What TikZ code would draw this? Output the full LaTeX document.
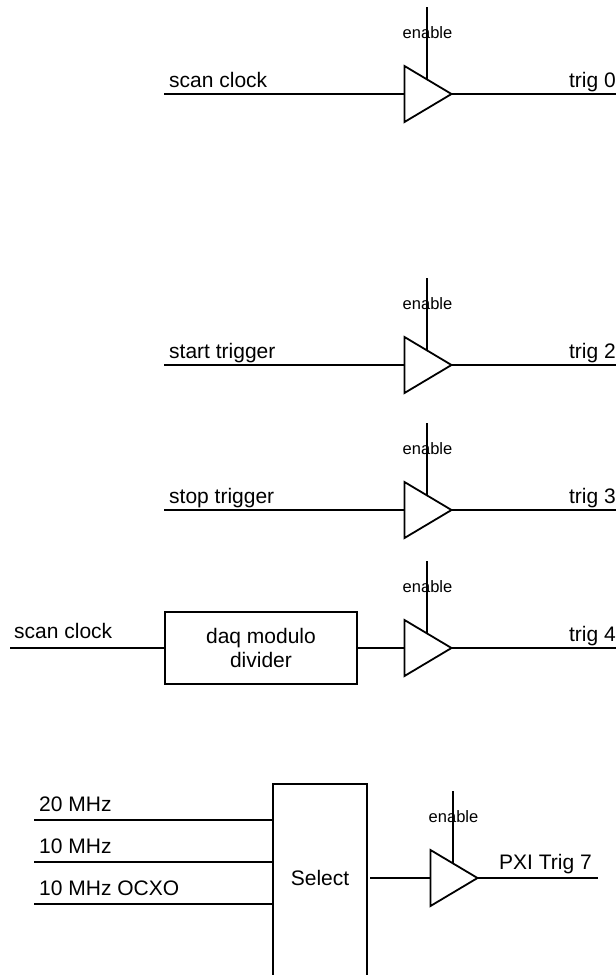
\documentclass[tikz,border=0pt]{standalone}
\usepackage{fontspec}
\setmainfont{Liberation Sans}
\tikzset{x=1pt,y=-1pt,
 wire/.style={line width=1.8pt},
 lab/.style={font=\fontsize{21}{24}\selectfont,inner sep=0pt,anchor=base west},
 midlab/.style={font=\fontsize{21}{24}\selectfont,inner sep=0pt,anchor=center,align=center},
 enlab/.style={font=\fontsize{16.5}{18}\selectfont,inner sep=0pt,anchor=center,fill=none},
 blockbox/.style={draw,wire,rectangle,inner sep=0pt},
}
\newcommand{\buffer}[6]{% name, left x, line y, in-start coordinate name, out x, out label
 \coordinate (#1L) at (#2,#3);
 \coordinate (#1T) at (#2,#3-28);
 \coordinate (#1B) at (#2,#3+28);
 \coordinate (#1O) at (#2+47,#3);
 \coordinate (#1E) at (#2+22.5,#3-14);
 \coordinate (#1Etop) at (#2+22.5,#3-87);
 \draw[wire,line join=miter] (#1L)--(#1T)--(#1O)--(#1B)--cycle;
 \node[enlab] (#1en) at (#2+23,#3-61) {enable};
 \draw[wire] (#1Etop)--(#1E);
 \coordinate (#1end) at (#5,#3);
 \draw[wire] (#1O)--(#1end);
}
\begin{document}
\begin{tikzpicture}
\useasboundingbox (0,0) rectangle (616,975);
% row 0
\buffer{a}{404.5}{94}{}{616}{}
\coordinate (as) at (164,94);
\draw[wire] (as)--(aL);
\node[lab] (al) at (169,87) {scan clock};
\node[lab,anchor=base east] (ar) at (616,87) {trig 0};
% row 2
\buffer{b}{404.5}{365}{}{616}{}
\coordinate (bs) at (164,365);
\draw[wire] (bs)--(bL);
\node[lab] (bl) at (169,358) {start trigger};
\node[lab,anchor=base east] (br) at (616,358) {trig 2};
% row 3
\buffer{c}{404.5}{510}{}{616}{}
\coordinate (cs) at (164,510);
\draw[wire] (cs)--(cL);
\node[lab] (cl) at (169,503) {stop trigger};
\node[lab,anchor=base east] (cr) at (616,503) {trig 3};
% row 4
\buffer{d}{404.5}{648}{}{616}{}
\node[blockbox,minimum width=192pt,minimum height=72pt,midlab] (div) at (261,648) {daq modulo\\divider};
\coordinate (ds) at (10,648);
\draw[wire] (ds)--(div.west);
\draw[wire] (div.east)--(dL);
\node[lab] (dl) at (14,638) {scan clock};
\node[lab,anchor=base east] (dr) at (616,641) {trig 4};
% select
\buffer{e}{430.5}{878}{}{598}{}
\path[draw,wire] (273,990)--(273,784)--(367,784)--(367,990);
\node[midlab] (sel) at (320,878) {Select};
\coordinate (i1) at (34,820); \coordinate (i1e) at (273,820);
\coordinate (i2) at (34,862); \coordinate (i2e) at (273,862);
\coordinate (i3) at (34,904); \coordinate (i3e) at (273,904);
\draw[wire] (i1)--(i1e);
\draw[wire] (i2)--(i2e);
\draw[wire] (i3)--(i3e);
\node[lab] (t1) at (39,811) {20 MHz};
\node[lab] (t2) at (39,853) {10 MHz};
\node[lab] (t3) at (39,895) {10 MHz OCXO};
\coordinate (sout) at (370,878);
\draw[wire] (sout)--(eL);
\node[lab] (t4) at (499,869) {PXI Trig 7};
\end{tikzpicture}
\end{document}
